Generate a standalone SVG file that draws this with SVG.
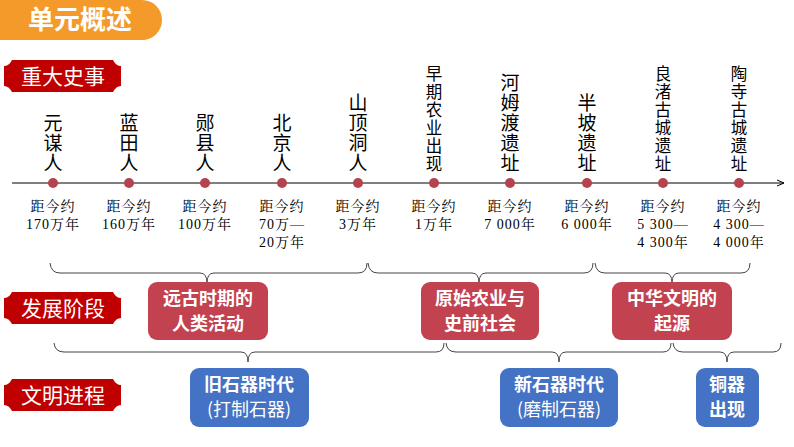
<svg xmlns="http://www.w3.org/2000/svg" width="794" height="447" viewBox="0 0 794 447">
<defs>
<style>
.v{font-family:"Noto Sans CJK SC",sans-serif;font-size:19px;fill:#000;text-anchor:middle}
.s{font-size:16.5px}
.d{font-family:"Liberation Serif","Noto Serif CJK SC","Noto Sans CJK SC",serif;font-size:14px;letter-spacing:1px;fill:#000;text-anchor:middle}
.pl{fill:#c00000}
.pt{font-family:"Noto Sans CJK SC",sans-serif;font-size:21px;fill:#fff;text-anchor:middle}
.bx{font-family:"Noto Sans CJK SC",sans-serif;font-size:18px;font-weight:bold;fill:#fff;text-anchor:middle}
.bn{font-weight:normal}
.red{fill:#c3424f}
.blue{fill:#4472c4}
.dot{fill:#b5424e}
.br{fill:none;stroke:#444;stroke-width:1}
</style>
<marker id="ar" markerWidth="8" markerHeight="8" refX="7" refY="4" orient="auto"><path d="M0,1 L7,4 L0,7" fill="none" stroke="#000" stroke-width="1"/></marker>
<path id="plate" d="M8,0 H109 Q112,6 117,6 L117,26 Q112,26 109,32 H8 Q5,26 0,26 L0,6 Q5,6 8,0 Z"/>
</defs>
<g id="header">
<path d="M0,0 H142 A20,20 0 0 1 142,40 H0 Z" fill="#f39a2b"/>
<text x="80" y="29" font-family="Noto Sans CJK SC,sans-serif" font-size="26" font-weight="bold" fill="#fff" text-anchor="middle">单元概述</text>
</g>
<g id="plate1"><use href="#plate" x="4" y="60" class="pl"/><text class="pt" x="63" y="84">重大史事</text></g>
<g id="plate2"><use href="#plate" x="4" y="292" class="pl"/><text class="pt" x="63" y="316">发展阶段</text></g>
<g id="plate3"><use href="#plate" x="4" y="379" class="pl"/><text class="pt" x="63" y="403">文明进程</text></g>
<g id="connectors">
<line x1="12" y1="183" x2="784" y2="183" stroke="#000" stroke-width="1" marker-end="url(#ar)"/>
<path class="br" d="M50,263 Q51,273 60,273 H200 Q207,273 207,283 Q207,273 214,273 H358 Q367,273 367,263"/>
<path class="br" d="M368,263 Q369,273 378,273 H472 Q479,273 479,283 Q479,273 486,273 H584 Q593,273 593,263"/>
<path class="br" d="M595,263 Q596,273 605,273 H665 Q672,273 672,283 Q672,273 679,273 H741 Q750,273 750,263"/>
<path class="br" d="M54,343 Q55,352 64,352 H241 Q248,352 248,362 Q248,352 255,352 H436 Q444,352 444,343"/>
<path class="br" d="M446,343 Q447,352 456,352 H552 Q559,352 559,362 Q559,352 566,352 H663 Q671,352 671,343"/>
<path class="br" d="M673,343 Q674,352 683,352 H720 Q727,352 727,362 Q727,352 734,352 H773 Q781,352 781,343"/>
</g>
<g id="ev1"><circle class="dot" cx="53" cy="183" r="5"/><text class="v"><tspan x="53" y="130">元</tspan><tspan x="53" y="150">谋</tspan><tspan x="53" y="170">人</tspan></text><text class="d"><tspan x="53" y="211">距今约</tspan><tspan x="53" y="229">170万年</tspan></text></g>
<g id="ev2"><circle class="dot" cx="129" cy="183" r="5"/><text class="v"><tspan x="129" y="130">蓝</tspan><tspan x="129" y="150">田</tspan><tspan x="129" y="170">人</tspan></text><text class="d"><tspan x="129" y="211">距今约</tspan><tspan x="129" y="229">160万年</tspan></text></g>
<g id="ev3"><circle class="dot" cx="205" cy="183" r="5"/><text class="v"><tspan x="205" y="130">郧</tspan><tspan x="205" y="150">县</tspan><tspan x="205" y="170">人</tspan></text><text class="d"><tspan x="205" y="211">距今约</tspan><tspan x="205" y="229">100万年</tspan></text></g>
<g id="ev4"><circle class="dot" cx="282" cy="183" r="5"/><text class="v"><tspan x="282" y="130">北</tspan><tspan x="282" y="150">京</tspan><tspan x="282" y="170">人</tspan></text><text class="d"><tspan x="282" y="211">距今约</tspan><tspan x="282" y="229">70万—</tspan><tspan x="282" y="247">20万年</tspan></text></g>
<g id="ev5"><circle class="dot" cx="358" cy="183" r="5"/><text class="v"><tspan x="358" y="110">山</tspan><tspan x="358" y="130">顶</tspan><tspan x="358" y="150">洞</tspan><tspan x="358" y="170">人</tspan></text><text class="d"><tspan x="358" y="211">距今约</tspan><tspan x="358" y="229">3万年</tspan></text></g>
<g id="ev6"><circle class="dot" cx="434" cy="183" r="5"/><text class="v s"><tspan x="434" y="80">早</tspan><tspan x="434" y="98">期</tspan><tspan x="434" y="116">农</tspan><tspan x="434" y="134">业</tspan><tspan x="434" y="152">出</tspan><tspan x="434" y="170">现</tspan></text><text class="d"><tspan x="434" y="211">距今约</tspan><tspan x="434" y="229">1万年</tspan></text></g>
<g id="ev7"><circle class="dot" cx="510" cy="183" r="5"/><text class="v"><tspan x="510" y="90">河</tspan><tspan x="510" y="110">姆</tspan><tspan x="510" y="130">渡</tspan><tspan x="510" y="150">遗</tspan><tspan x="510" y="170">址</tspan></text><text class="d"><tspan x="510" y="211">距今约</tspan><tspan x="510" y="229">7 000年</tspan></text></g>
<g id="ev8"><circle class="dot" cx="587" cy="183" r="5"/><text class="v"><tspan x="587" y="110">半</tspan><tspan x="587" y="130">坡</tspan><tspan x="587" y="150">遗</tspan><tspan x="587" y="170">址</tspan></text><text class="d"><tspan x="587" y="211">距今约</tspan><tspan x="587" y="229">6 000年</tspan></text></g>
<g id="ev9"><circle class="dot" cx="663" cy="183" r="5"/><text class="v s"><tspan x="663" y="80">良</tspan><tspan x="663" y="98">渚</tspan><tspan x="663" y="116">古</tspan><tspan x="663" y="134">城</tspan><tspan x="663" y="152">遗</tspan><tspan x="663" y="170">址</tspan></text><text class="d"><tspan x="663" y="211">距今约</tspan><tspan x="663" y="229">5 300—</tspan><tspan x="663" y="247">4 300年</tspan></text></g>
<g id="ev10"><circle class="dot" cx="739" cy="183" r="5"/><text class="v s"><tspan x="739" y="80">陶</tspan><tspan x="739" y="98">寺</tspan><tspan x="739" y="116">古</tspan><tspan x="739" y="134">城</tspan><tspan x="739" y="152">遗</tspan><tspan x="739" y="170">址</tspan></text><text class="d"><tspan x="739" y="211">距今约</tspan><tspan x="739" y="229">4 300—</tspan><tspan x="739" y="247">4 000年</tspan></text></g>
<g id="stage1"><rect class="red" x="148" y="282" width="120" height="58" rx="9"/><text class="bx"><tspan x="208" y="305">远古时期的</tspan><tspan x="208" y="330">人类活动</tspan></text></g>
<g id="stage2"><rect class="red" x="421" y="282" width="118" height="58" rx="9"/><text class="bx"><tspan x="480" y="305">原始农业与</tspan><tspan x="480" y="330">史前社会</tspan></text></g>
<g id="stage3"><rect class="red" x="612" y="282" width="120" height="58" rx="9"/><text class="bx"><tspan x="672" y="305">中华文明的</tspan><tspan x="672" y="330">起源</tspan></text></g>
<g id="civ1"><rect class="blue" x="190" y="368" width="119" height="59" rx="9"/><text class="bx"><tspan x="249" y="391">旧石器时代</tspan><tspan class="bn" x="249" y="416">(打制石器)</tspan></text></g>
<g id="civ2"><rect class="blue" x="500" y="368" width="118" height="59" rx="9"/><text class="bx"><tspan x="559" y="391">新石器时代</tspan><tspan class="bn" x="559" y="416">(磨制石器)</tspan></text></g>
<g id="civ3"><rect class="blue" x="696" y="368" width="63" height="59" rx="9"/><text class="bx"><tspan x="727" y="391">铜器</tspan><tspan x="727" y="416">出现</tspan></text></g>
</svg>
